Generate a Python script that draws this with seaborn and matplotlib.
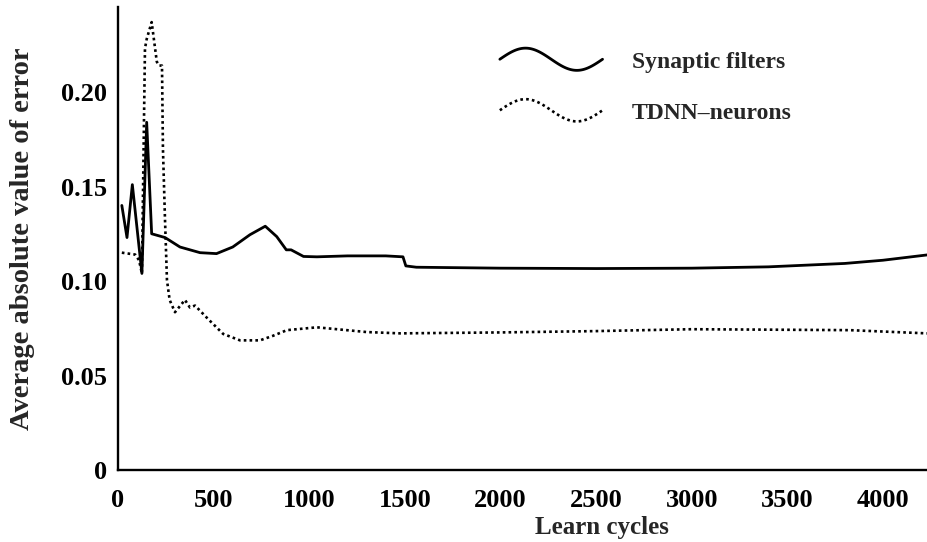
import numpy as np
import matplotlib
matplotlib.use("Agg")
import matplotlib.pyplot as plt
import seaborn as sns
from matplotlib.lines import Line2D
from matplotlib.legend_handler import HandlerBase

# Synaptic filters (solid line)
syn_x = [20, 47, 75, 125, 150, 176, 246, 324, 429, 515, 600, 690, 770, 830, 880, 905,
         970, 1040, 1200, 1400, 1490, 1505, 1560, 2000, 2500, 3000, 3400, 3800, 4000, 4230]
syn_y = [0.140, 0.123, 0.151, 0.104, 0.184, 0.125, 0.123, 0.118, 0.115, 0.1145, 0.118, 0.1245,
         0.129, 0.1235, 0.1165, 0.1165, 0.113, 0.1128, 0.1133, 0.1133, 0.1128, 0.108, 0.1073,
         0.1068, 0.1066, 0.1068, 0.1075, 0.1093, 0.111, 0.1138]

# TDNN-neurons (dotted line)
tdnn_x = [20, 90, 110, 125, 141, 150, 176, 203, 215, 230, 235, 245, 256, 270, 298, 350,
          376, 403, 470, 550, 638, 742, 810, 883, 1040, 1300, 1475, 2000, 2500, 3000,
          3500, 3827, 4230]
tdnn_y = [0.115, 0.114, 0.111, 0.104, 0.223, 0.228, 0.237, 0.216, 0.214, 0.214, 0.170,
          0.135, 0.1005, 0.090, 0.0835, 0.090, 0.086, 0.087, 0.080, 0.072, 0.0686, 0.0686,
          0.071, 0.074, 0.0755, 0.073, 0.0723, 0.0728, 0.0735, 0.0745, 0.0742, 0.074, 0.0723]

x_ticks = [0, 500, 1000, 1500, 2000, 2500, 3000, 3500, 4000]
y_ticks = [0, 0.05, 0.10, 0.15, 0.20]
y_ticklabels = ["0", "0.05", "0.10", "0.15", "0.20"]


class WaveHandler(HandlerBase):
    # legend glyph drawn as one wave period
    def create_artists(self, legend, orig_handle, xdescent, ydescent,
                       width, height, fontsize, trans):
        t = np.linspace(0, 1, 80)
        xs = -xdescent + t * width
        ys = -ydescent + height / 2 + 8 * np.sin(2 * np.pi * t)
        line = Line2D(xs, ys)
        self.update_prop(line, orig_handle, legend)
        line.set_transform(trans)
        return [line]


sns.set_style("ticks")
plt.rcParams["font.family"] = ["Liberation Serif", "DejaVu Serif"]

fig = plt.figure(figsize=(9.27, 5.42), dpi=100)
ax = fig.add_axes([118 / 927, 72 / 542, 809 / 927, 463 / 542])

sns.lineplot(x=syn_x, y=syn_y, ax=ax, color="black", linewidth=2.0,
             sort=False, estimator=None, label="Synaptic filters")
sns.lineplot(x=tdnn_x, y=tdnn_y, ax=ax, color="black", linewidth=1.9,
             linestyle=(0, (1, 1.2)), sort=False, estimator=None,
             label="TDNN\u2013neurons")

ax.set_xlim(0, 4230)
ax.set_ylim(0, 0.245)
ax.set_xticks(x_ticks)
ax.set_xticklabels([str(v) for v in x_ticks])
ax.set_yticks(y_ticks)
ax.set_yticklabels(y_ticklabels)
ax.tick_params(axis="both", length=0, labelsize=19, colors="black")
ax.tick_params(axis="x", pad=14)
ax.tick_params(axis="y", pad=8)
for lab in ax.get_xticklabels() + ax.get_yticklabels():
    lab.set_fontweight("bold")

sns.despine(ax=ax)
for side in ["left", "bottom"]:
    ax.spines[side].set_linewidth(1.7)
    ax.spines[side].set_color("black")

ax.set_xlabel("Learn cycles", fontsize=18, fontweight="bold")
ax.set_ylabel("Average absolute value of error", fontsize=20.5, fontweight="bold")
ax.xaxis.set_label_coords(0.598, -0.10)
ax.yaxis.set_label_coords(-0.102, 0.5)

handles, labels = ax.get_legend_handles_labels()
leg = ax.legend(handles, labels, handler_map={h: WaveHandler() for h in handles},
                loc="upper left", bbox_to_anchor=(0.472, 0.905), frameon=False,
                fontsize=17, handlelength=4.35, handletextpad=1.25, labelspacing=1.25,
                borderpad=0, borderaxespad=0)
for txt in leg.get_texts():
    txt.set_fontweight("bold")

fig.savefig("out.png", dpi=100)
